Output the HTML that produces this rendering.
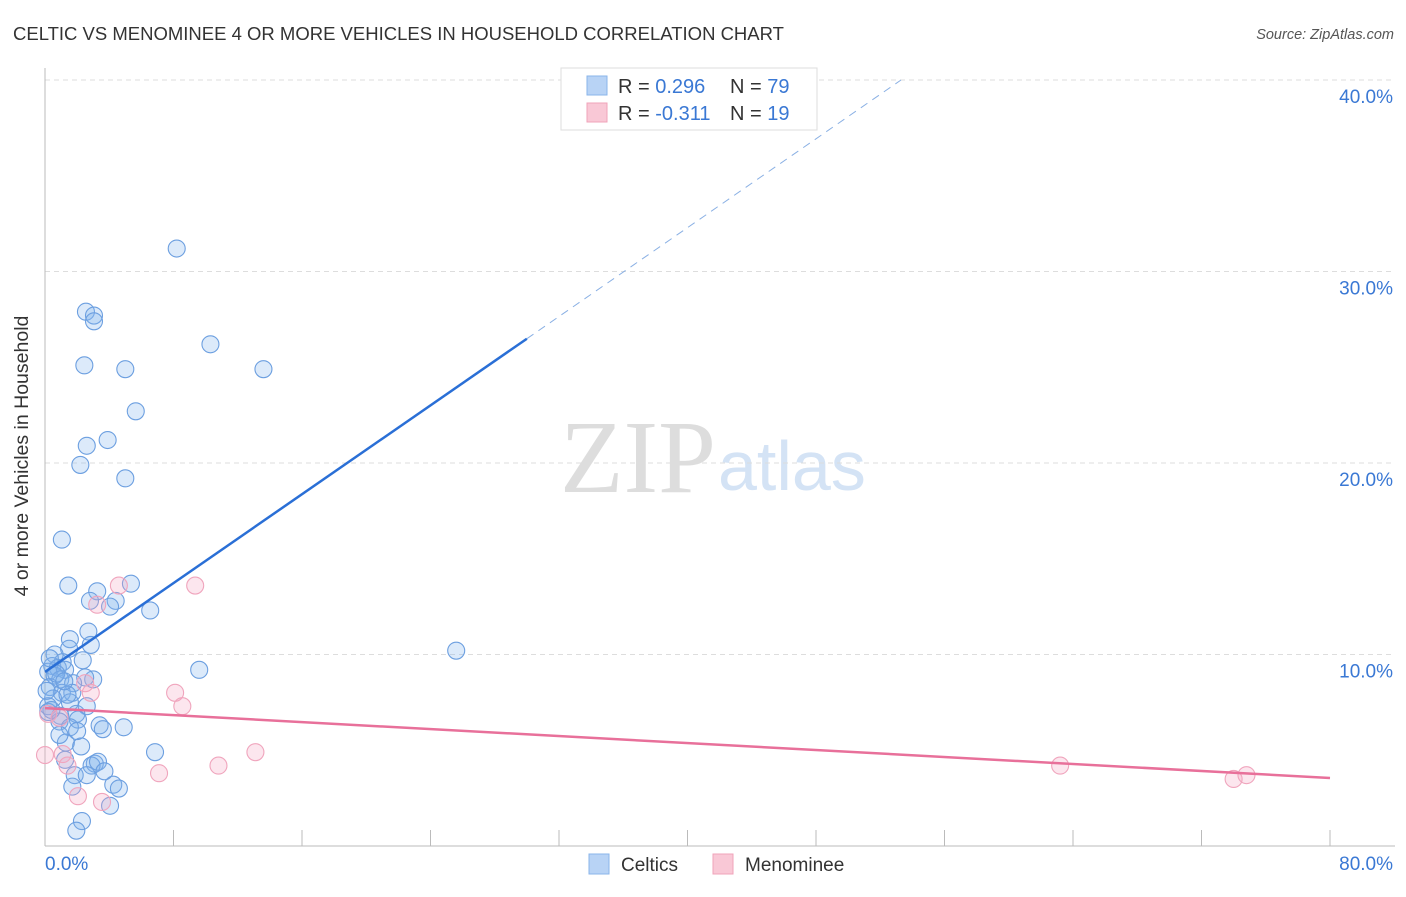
<!DOCTYPE html>
<html><head><meta charset="utf-8"><style>
body{margin:0;background:#fff;font-family:"Liberation Sans",sans-serif;}
</style></head><body>
<svg id="c" width="1406" height="892" style="font-family:'Liberation Sans',sans-serif">
<text x="13" y="40" font-size="18.5" fill="#333">CELTIC VS MENOMINEE 4 OR MORE VEHICLES IN HOUSEHOLD CORRELATION CHART</text>
<text x="1394" y="39" font-size="14.5" fill="#555" font-style="italic" text-anchor="end">Source: ZipAtlas.com</text>
<text x="716" y="492" font-size="104" fill="#ddd" text-anchor="end" style="font-family:'Liberation Serif',serif">ZIP</text>
<text x="718" y="490" font-size="70" fill="#d4e3f5">atlas</text>
<text x="28" y="456" font-size="19.5" fill="#333" text-anchor="middle" transform="rotate(-90 28 456)">4 or more Vehicles in Household</text>
<g id="grid"></g><g id="pts"></g><g id="lines"></g>
<g>
<rect x="561" y="68" width="256" height="62" fill="#fff" stroke="#ddd"/>
<rect x="587" y="76" width="20" height="19" fill="#b8d3f5" stroke="#8ab4ea"/>
<rect x="587" y="103" width="20" height="19" fill="#f9c8d6" stroke="#f0a3ba"/>
<text x="618" y="93" font-size="20" fill="#333">R = <tspan fill="#3a78d4">0.296</tspan></text>
<text x="730" y="93" font-size="20" fill="#333">N = <tspan fill="#3a78d4">79</tspan></text>
<text x="618" y="120" font-size="20" fill="#333">R = <tspan fill="#3a78d4">-0.311</tspan></text>
<text x="730" y="120" font-size="20" fill="#333">N = <tspan fill="#3a78d4"> 19</tspan></text>
</g>
<g>
<rect x="589" y="854" width="20" height="20" fill="#b8d3f5" stroke="#8ab4ea"/>
<text x="621" y="871" font-size="19" fill="#333">Celtics</text>
<rect x="713" y="854" width="20" height="20" fill="#f9c8d6" stroke="#f0a3ba"/>
<text x="745" y="871" font-size="19" fill="#333">Menominee</text>
</g>
</svg>
<script>
const yTicks=[10,20,30,40];
const yTickLabels=["10.0%","20.0%","30.0%","40.0%"];
const xTickLabels=["0.0%","80.0%"];
const celticX=[8.2,2.55,3.05,3.05,10.3,2.45,5.0,13.6,5.65,3.9,2.6,2.2,5.0,1.05,1.45,5.35,3.25,2.8,4.4,4.05,6.55,2.7,1.55,2.85,1.5,25.6,0.6,2.35,1.1,9.6,0.45,0.8,1.25,0.2,0.6,0.95,3.0,2.5,1.75,0.3,1.05,1.7,0.5,1.55,2.6,0.2,0.2,1.95,0.95,2.05,0.9,3.4,3.6,4.9,1.55,1.3,2.25,6.85,1.25,3.1,2.9,3.3,1.85,2.6,1.7,4.25,4.6,4.05,2.3,1.95,0.3,0.7,1.4,0.4,2.0,1.2,0.1,0.9,3.7];
const celticY=[31.2,27.9,27.7,27.4,26.2,25.1,24.9,24.9,22.7,21.2,20.9,19.9,19.2,16.0,13.6,13.7,13.3,12.8,12.8,12.5,12.3,11.2,10.8,10.5,10.3,10.2,10.0,9.7,9.6,9.2,9.4,9.3,9.2,9.1,8.9,8.7,8.7,8.8,8.5,8.3,8.0,8.0,7.7,7.5,7.3,7.3,7.0,6.9,6.8,6.6,6.5,6.3,6.1,6.2,6.2,5.4,5.2,4.9,4.5,4.3,4.2,4.4,3.7,3.7,3.1,3.2,3.0,2.1,1.3,0.8,9.8,9.0,7.9,7.1,6.0,8.6,8.1,5.8,3.9];
const menX=[4.6,9.35,3.25,2.5,8.1,2.85,8.55,0.2,0.9,0,1.1,1.4,13.1,7.1,10.8,2.05,3.55,63.2,74.0,74.8];
const menY=[13.6,13.6,12.6,8.5,8.0,8.0,7.3,6.9,6.7,4.75,4.8,4.2,4.9,3.8,4.2,2.6,2.3,4.2,3.5,3.7];
const celticLine=[9.09,0.58];
const menLine=[7.2,-0.0456];
const X0=45,X1=1330,Y0=846,Y40=80;
const sx=v=>X0+(X1-X0)*v/80, sy=v=>Y0-(Y0-Y40)*v/40;
const NS="http://www.w3.org/2000/svg";
function mk(tag,attrs,parent){const e=document.createElementNS(NS,tag);for(const k in attrs)e.setAttribute(k,attrs[k]);parent.appendChild(e);return e;}
const grid=document.getElementById('grid');
yTicks.forEach((t,i)=>{
 const l=mk('line',{x1:X0,x2:1395,y1:sy(t),y2:sy(t),stroke:'#ddd','stroke-dasharray':'5,4'},grid);
 
 
 const tx=mk('text',{x:1393,y:sy(t)+23,'font-size':19,fill:'#3a78d4','text-anchor':'end'},grid);
 tx.textContent=yTickLabels[i];
 
 
});
const ax=mk('line',{x1:X0,x2:X0,y1:68,y2:Y0,stroke:'#bbb'},grid);


const bx=mk('line',{x1:X0,x2:1395,y1:Y0,y2:Y0,stroke:'#bbb'},grid);


for(let v=8;v<=80;v+=8){const t=mk('line',{x1:sx(v),x2:sx(v),y1:830,y2:Y0,stroke:'#bbb'},grid);
 
 }
[[0,'start',45],[80,'end',1393]].forEach((d,i)=>{const t=mk('text',{x:d[2],y:870,'font-size':19,fill:'#3a78d4','text-anchor':d[1]},grid);t.textContent=xTickLabels[i];
 
 });
const pts=document.getElementById('pts');
celticX.forEach((x,i)=>{const c=mk('circle',{cx:sx(x),cy:sy(celticY[i]),r:8.5,fill:'rgba(130,178,238,0.28)',stroke:'#6c9fe0','stroke-width':1.1},pts);
 
 });
menX.forEach((x,i)=>{const c=mk('circle',{cx:sx(x),cy:sy(menY[i]),r:8.5,fill:'rgba(245,165,195,0.28)',stroke:'#f0a5bd','stroke-width':1.1},pts);
 
 });
const lines=document.getElementById('lines');
const f=(L,x)=>L[0]+L[1]*x;
const xe=(40-celticLine[0])/celticLine[1];
const l1=mk('line',{x1:sx(0),y1:sy(f(celticLine,0)),x2:sx(30),y2:sy(f(celticLine,30)),stroke:'#2a6fd6','stroke-width':2.5},lines);


const l2=mk('line',{x1:sx(30),y1:sy(f(celticLine,30)),x2:sx(xe),y2:sy(40),stroke:'#8ab0e4','stroke-width':1,'stroke-dasharray':'8,6'},lines);


const l3=mk('line',{x1:sx(0),y1:sy(f(menLine,0)),x2:sx(80),y2:sy(f(menLine,80)),stroke:'#e8709a','stroke-width':2.5},lines);


</script>
</body></html>
